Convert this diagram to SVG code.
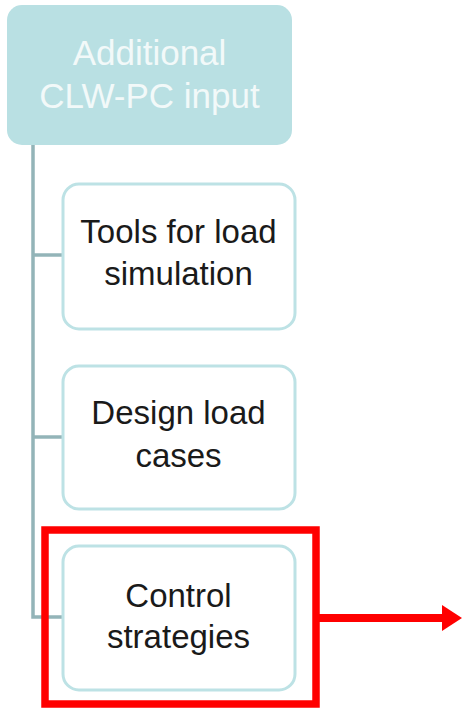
<svg xmlns="http://www.w3.org/2000/svg" width="462" height="708" viewBox="0 0 462 708">
<style>
.child rect{fill:#ffffff;stroke:#bde2e5;stroke-width:3}
.child text{font-family:"Liberation Sans",Arial,sans-serif;font-size:33px;fill:#1a1a1a;text-anchor:middle}
.conn{stroke:#93b4b8;stroke-width:3.5;fill:none}
.root text{font-family:"Liberation Sans",Arial,sans-serif;font-size:35px;fill:#f2f9f9;text-anchor:middle}
</style>
<rect width="462" height="708" fill="#ffffff"/>
<g id="connectors">
<path class="conn" d="M33,145 V617 H62"/>
<path class="conn" d="M33,255 H62"/>
<path class="conn" d="M33,437 H62"/>
</g>
<g id="root" class="root">
<rect x="7" y="5" width="285" height="140" rx="15" fill="#b9e0e3"/>
<text x="149.500" y="65">Additional</text>
<text x="149.500" y="108">CLW-PC input</text>
</g>
<g id="tools" class="child">
<rect x="63" y="184" width="232" height="145" rx="16"/>
<text x="178.500" y="243">Tools for load</text>
<text x="178.500" y="285">simulation</text>
</g>
<g id="design" class="child">
<rect x="63" y="366" width="232" height="143" rx="16"/>
<text x="178.500" y="424">Design load</text>
<text x="178.500" y="467">cases</text>
</g>
<g id="control" class="child">
<rect x="63" y="546" width="232" height="144" rx="16"/>
<text x="178.500" y="607">Control</text>
<text x="178.500" y="648">strategies</text>
</g>
<g id="highlight">
<rect x="45" y="530" width="271" height="174" fill="none" stroke="#ff0000" stroke-width="7.500"/>
<line x1="319" y1="618" x2="445" y2="618" stroke="#ff0000" stroke-width="8"/>
<polygon points="442,605 462,618 442,631" fill="#ff0000"/>
</g>
</svg>
